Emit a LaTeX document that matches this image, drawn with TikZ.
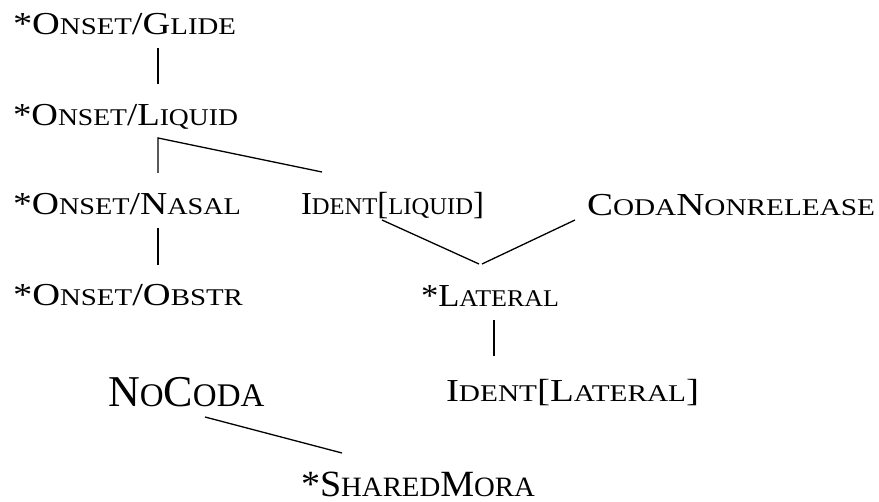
\documentclass[tikz,border=0pt]{standalone}
\usepackage{fontspec}
\usepackage{graphicx}
\setmainfont{Liberation Serif}
\newcommand\sm[1]{{\fontsize{24}{28}\selectfont #1}}
\newcommand\bsm[1]{{\fontsize{33}{38}\selectfont #1}}
\newcommand\msm[1]{{\fontsize{28}{32}\selectfont #1}}
\newcommand\hs[2]{\resizebox{#1}{\height}{#2}}
\tikzset{
  lbl/.style={anchor=base west, inner sep=0pt, outer sep=0pt, font=\fontsize{32}{38}\selectfont},
  biglbl/.style={anchor=base west, inner sep=0pt, outer sep=0pt, font=\fontsize{44}{50}\selectfont},
  midlbl/.style={anchor=base west, inner sep=0pt, outer sep=0pt, font=\fontsize{37}{42}\selectfont},
  rank/.style={line width=1.3pt}
}
\begin{document}
\begin{tikzpicture}[x=1pt,y=-1pt]
\useasboundingbox (0,0) rectangle (879,502);
\node[lbl] (glide) at (13,35) {\hs{223pt}{*O\sm{NSET}/G\sm{LIDE}}};
\node[lbl] (liquid) at (13,126) {\hs{225pt}{*O\sm{NSET}/L\sm{IQUID}}};
\node[lbl] (nasal) at (13,215) {\hs{228pt}{*O\sm{NSET}/N\sm{ASAL}}};
\node[lbl] (obstr) at (13,306) {\hs{230pt}{*O\sm{NSET}/O\sm{BSTR}}};
\node[lbl] (identliq) at (301,215) {\hs{183pt}{I\sm{DENT}[\sm{LIQUID}]}};
\node[lbl] (coda) at (587,216) {\hs{288pt}{C\sm{ODA}N\sm{ONRELEASE}}};
\node[lbl] (lateral) at (421,307) {\hs{138pt}{*L\sm{ATERAL}}};
\node[lbl] (identlat) at (446,402) {\hs{253pt}{I\sm{DENT}[L\sm{ATERAL}]}};
\node[biglbl] (nocoda) at (108,407) {N\bsm{O}C\bsm{ODA}};
\node[midlbl] (shared) at (301,497) {\raisebox{0pt}[\height][0pt]{\hs{234pt}{*S\msm{HARED}M\msm{ORA}}}};
% connector end points
\coordinate (g1) at (158,48);
\coordinate (l0) at (158,84);
\coordinate (l1) at (158,138);
\coordinate (n0) at (158,173);
\coordinate (i0) at (322,172);
\coordinate (n1) at (158,228);
\coordinate (o0) at (158,265);
\coordinate (i1) at (382,220);
\coordinate (c1) at (575,220);
\coordinate (la0) at (479,264);
\coordinate (la0b) at (482,264);
\coordinate (la1) at (494,320);
\coordinate (il0) at (494,356);
\coordinate (nc1) at (205,417);
\coordinate (s0) at (342,453);
\draw[rank] (g1) -- (l0);
\draw[rank] (n0) -- (l1) -- (i0);
\draw[rank] (n1) -- (o0);
\draw[rank] (i1) -- (la0);
\draw[rank] (c1) -- (la0b);
\draw[rank] (la1) -- (il0);
\draw[rank] (nc1) -- (s0);
\end{tikzpicture}
\end{document}
